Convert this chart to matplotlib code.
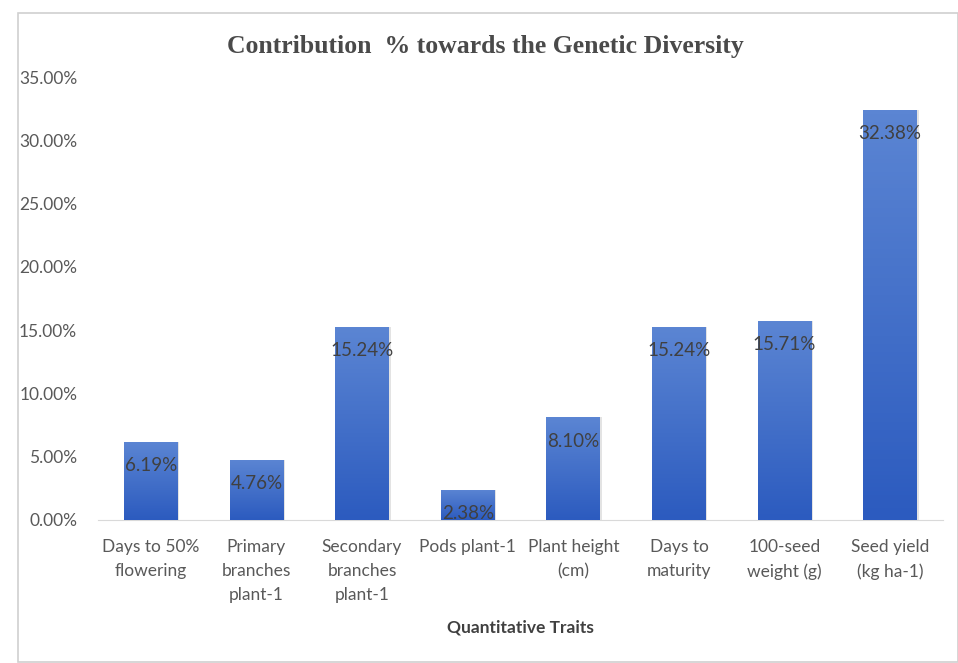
import matplotlib
matplotlib.use("Agg")
import matplotlib.pyplot as plt
import numpy as np
from matplotlib.colors import LinearSegmentedColormap
from matplotlib.patches import Rectangle

# data
traits = ["Days to 50%\nflowering", "Primary\nbranches\nplant-1", "Secondary\nbranches\nplant-1",
          "Pods plant-1", "Plant height\n(cm)", "Days to\nmaturity", "100-seed\nweight (g)",
          "Seed yield\n(kg ha-1)"]
contribution = [6.19, 4.76, 15.24, 2.38, 8.10, 15.24, 15.71, 32.38]
yticks = [0, 5, 10, 15, 20, 25, 30, 35]

txt_col = "#595959"
label_font = ["Lato", "DejaVu Sans"]

fig = plt.figure(figsize=(9.58, 6.63), dpi=100)
fig.patches.append(Rectangle((18 / 958, 1 / 663), 1 - 18 / 958, 1 - 14 / 663,
                             transform=fig.transFigure, fill=False,
                             edgecolor="#d0d0d0", linewidth=1.2))
ax = fig.add_axes([98 / 958, 1 - 520 / 663, (943 - 98) / 958, (520 - 77) / 663])

x = np.arange(len(traits))
bars = ax.bar(x, contribution, width=0.51, color="#4472c4", zorder=2)

# vertical gradient, lighter on top
grad = LinearSegmentedColormap.from_list("g", ["#2c5bbf", "#5b85d3"])
for b in bars:
    x0, y0 = b.get_x(), b.get_y()
    w, h = b.get_width(), b.get_height()
    # soft shadow on the right side
    ax.add_patch(Rectangle((x0 + 0.015, y0), w, h, color="#c8c8c8", alpha=0.5, zorder=1, lw=0))
    im = ax.imshow(np.linspace(0, 1, 100).reshape(-1, 1), cmap=grad, origin="lower",
                   extent=[x0, x0 + w, y0, y0 + h], aspect="auto", zorder=3)
    im.set_clip_path(b)

for xi, v in zip(x, contribution):
    ax.annotate(f"{v:.2f}%", (xi, v), xytext=(0, -17), textcoords="offset points",
                ha="center", va="center", fontsize=13.5, color="#404040",
                family=label_font, zorder=4)

ax.set_xlim(-0.5, len(traits) - 0.5)
ax.set_ylim(0, 35)
ax.set_yticks(yticks)
ax.set_yticklabels([f"{t:.2f}%" for t in yticks])
ax.set_xticks(x)
ax.set_xticklabels(traits, linespacing=1.6)

for s in ["top", "right", "left"]:
    ax.spines[s].set_visible(False)
ax.spines["bottom"].set_color("#d9d9d9")
ax.tick_params(axis="both", length=0, labelcolor=txt_col)
ax.tick_params(axis="y", labelsize=12.5, pad=15)
ax.tick_params(axis="x", labelsize=12.5, pad=14)
for lab in ax.get_xticklabels() + ax.get_yticklabels():
    lab.set_family(label_font)

ax.set_xlabel("Quantitative Traits", fontsize=12.5, fontweight="bold", color="#404040",
              family=label_font, labelpad=12)
fig.text(485 / 958, 1 - 46 / 663, "Contribution  % towards the Genetic Diversity",
         ha="center", va="center", fontsize=18.5, fontweight="bold", color="#4a4a4a",
         family=["Liberation Serif", "DejaVu Serif"])

fig.savefig("out.png", dpi=100)
